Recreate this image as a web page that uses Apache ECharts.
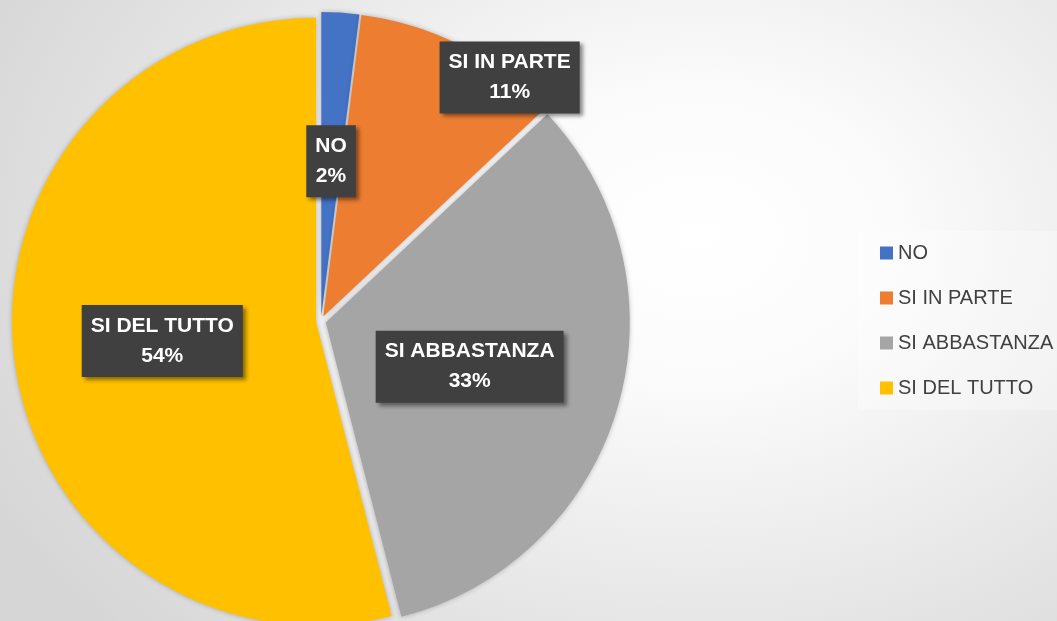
<!DOCTYPE html>
<html>
<head>
<meta charset="utf-8">
<script src="https://cdn.jsdelivr.net/npm/echarts@6/dist/echarts.min.js"></script>
<style>
  html, body { margin:0; padding:0; }
  body {
    width:1057px; height:621px; overflow:hidden;
    background: radial-gradient(ellipse 75% 95% at 66% 38%, #ffffff 0%, #fbfbfb 25%, #e4e4e4 70%, #d6d6d6 100%);
  }
  #chart { width:1057px; height:621px; }
</style>
</head>
<body>
<div id="chart"></div>
<script>
  // dati
  var categories = ['NO', 'SI IN PARTE', 'SI ABBASTANZA', 'SI DEL TUTTO'];
  var values = [2, 11, 33, 54];
  var colors = ['#4472C4', '#ED7D31', '#A5A5A5', '#FFC000'];

  var myChart = echarts.init(document.getElementById('chart'));

  var data = categories.map(function(name, i){
    return { name: name, value: values[i], selected: true, itemStyle: { color: colors[i] } };
  });

  var option = {
    backgroundColor: 'transparent',
    animation: false,
    legend: {
      orient: 'vertical',
      left: 858,
      top: 231,
      padding: [12, 10, 12, 22],
      backgroundColor: 'rgba(255,255,255,0.3)',
      itemWidth: 13,
      itemHeight: 13,
      itemGap: 25,
      icon: 'rect',
      selectedMode: false,
      data: categories,
      textStyle: {
        color: '#404040',
        fontSize: 20,
        fontFamily: 'Liberation Sans, Arial, sans-serif'
      }
    },
    series: [
      {
        type: 'pie',
        center: [321, 321],
        radius: [0, 304],
        startAngle: 90,
        clockwise: true,
        selectedMode: 'multiple',
        selectedOffset: 5,
        percentPrecision: 0,
        avoidLabelOverlap: false,
        emphasis: { scale: false },
        itemStyle: {
          borderWidth: 0,
          shadowBlur: 5,
          shadowColor: 'rgba(0,0,0,0.25)'
        },
        label: {
          show: true,
          position: 'inside',
          formatter: '{b}\n{d}%',
          color: '#ffffff',
          fontWeight: 'bold',
          fontSize: 21,
          lineHeight: 30,
          fontFamily: 'Liberation Sans, Arial, sans-serif',
          backgroundColor: '#404040',
          padding: [6, 9],
          shadowBlur: 4,
          shadowOffsetX: 3,
          shadowOffsetY: 3,
          shadowColor: 'rgba(0,0,0,0.45)'
        },
        labelLine: { show: false },
        labelLayout: function(params){
          if (params.dataIndex === 1) {
            return { dx: 116, dy: -101 };
          }
          if (params.dataIndex === 2) {
            return { dx: -5, dy: 1 };
          }
        },
        data: data
      }
    ]
  };

  myChart.setOption(option);
</script>
</body>
</html>
